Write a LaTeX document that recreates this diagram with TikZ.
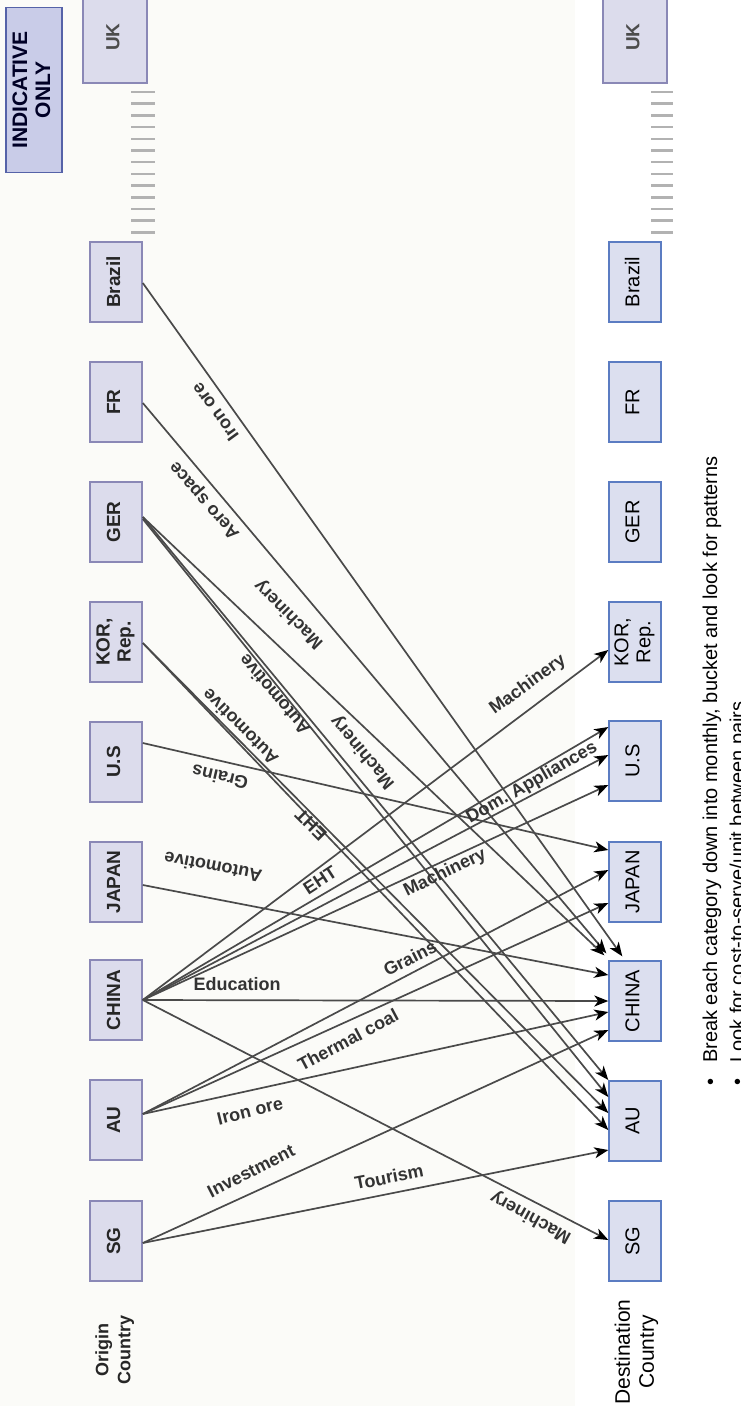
\documentclass[tikz,border=0pt]{standalone}
\usepackage{fontspec}
\setmainfont{Liberation Sans}
\usepackage{graphicx}
\usetikzlibrary{arrows.meta,calc}
\definecolor{boxfill}{HTML}{DCDFEF}
\definecolor{boxline}{HTML}{5B7CC2}
\definecolor{srcfill}{HTML}{DCDCEC}
\definecolor{srcline}{HTML}{8A88B6}
\definecolor{flow}{HTML}{4A4A4A}
\definecolor{lbltext}{HTML}{333333}
\definecolor{paper}{HTML}{FBFBF8}
\definecolor{indfill}{HTML}{C9CCE8}
\definecolor{indline}{HTML}{5562A8}
% vertical (bottom-to-top) multi-line text
\newcommand{\uprt}[1]{\rotatebox{90}{\begin{tabular}{@{}c@{}}#1\end{tabular}}}
\begin{document}
\begin{tikzpicture}[x=1pt,y=-1pt,
  src/.style={draw=srcline, fill=srcfill, line width=1.6pt, minimum width=52pt,
    minimum height=80pt, inner sep=0pt, text=black!85,
    font=\bfseries\fontsize{19}{21}\selectfont},
  dst/.style={draw=boxline, fill=boxfill, line width=1.4pt, minimum width=52pt,
    minimum height=80pt, inner sep=0pt, font=\fontsize{20}{22}\selectfont},
  ukbox/.style={draw=srcline, fill=srcfill, line width=1.2pt, minimum width=64pt,
    minimum height=92pt, inner sep=0pt, text=black!70,
    font=\bfseries\fontsize{19}{22}\selectfont},
  flowline/.style={draw=flow, line width=1.7pt,
    -{Stealth[length=14pt,width=11pt,inset=4pt,color=black]}},
  lbl/.style={text=lbltext, inner sep=0pt, font=\bfseries\fontsize{18}{21}\selectfont},
  dots/.style={draw=black!30, line width=2.5pt},
]
\clip (0,0) rectangle (740,1406);
\fill[white] (0,0) rectangle (740,1406);
\fill[paper] (0,0) rectangle (575,1406);

% ---- origin column ----
\node[src] (oBR) at (116,282) {\uprt{Brazil}};
\node[src] (oFR) at (116,402) {\uprt{FR}};
\node[src] (oGE) at (116,522) {\uprt{GER}};
\node[src] (oKR) at (116,642) {\uprt{KOR,\\Rep.}};
\node[src] (oUS) at (116,762) {\uprt{U.S}};
\node[src] (oJP) at (116,882) {\uprt{JAPAN}};
\node[src] (oCN) at (116,1000) {\uprt{CHINA}};
\node[src] (oAU) at (116,1120) {\uprt{AU}};
\node[src] (oSG) at (116,1241) {\uprt{SG}};
\node[ukbox] (oUK) at (115,37) {\uprt{UK}};

% ---- destination column ----
\node[dst] (dBR) at (635,282) {\uprt{Brazil}};
\node[dst] (dFR) at (635,402) {\uprt{FR}};
\node[dst] (dGE) at (635,522) {\uprt{GER}};
\node[dst] (dKR) at (635,642) {\uprt{KOR,\\Rep.}};
\node[dst] (dUS) at (635,761) {\uprt{U.S}};
\node[dst] (dJP) at (635,882) {\uprt{JAPAN}};
\node[dst] (dCN) at (635,1001) {\uprt{CHINA}};
\node[dst] (dAU) at (635,1121) {\uprt{AU}};
\node[dst] (dSG) at (635,1241) {\uprt{SG}};
\node[ukbox] (dUK) at (635,37) {\uprt{UK}};

% ellipsis between Brazil and UK
\foreach \k in {0,...,12} {
  \draw[dots] (131,92+11.7*\k) -- (155,92+11.7*\k);
  \draw[dots] (651,92+11.7*\k) -- (673,92+11.7*\k);
}

% ---- flows ----
\draw[flowline] ($(oBR.east)+(0,1)$) -- ($(dCN.north west)+(14,-4)$);
\draw[flowline] ($(oFR.east)+(0,1)$) -- ($(dCN.north west)+(-2,-7)$);
\draw[flowline] ($(oGE.east)+(0,-5)$) -- ($(dCN.north west)+(-4,-5)$);
\draw[flowline] ($(oGE.east)+(0,-5)$) -- ($(dAU.west)+(0,-41)$);
\draw[flowline] ($(oGE.east)+(0,-3)$) -- ($(dAU.west)+(0,-24)$);
\draw[flowline] ($(oKR.east)+(0,1)$) -- ($(dAU.west)+(0,-8)$);
\draw[flowline] ($(oKR.east)+(0,1)$) -- ($(dAU.west)+(0,9)$);
\draw[flowline] ($(oUS.east)+(0,-19)$) -- ($(dJP.west)+(0,-32)$);
\draw[flowline] ($(oJP.east)+(0,3)$) -- ($(dCN.west)+(0,-26)$);
\draw[flowline] (oCN.east) -- ($(dKR.west)+(0,8)$);
\draw[flowline] (oCN.east) -- ($(dUS.west)+(0,-34)$);
\draw[flowline] (oCN.east) -- ($(dUS.west)+(0,-6)$);
\draw[flowline] (oCN.east) -- ($(dUS.west)+(0,24)$);
\draw[flowline] (oCN.east) -- (dCN.west);
\draw[flowline] (oCN.east) -- ($(dSG.west)+(0,-1)$);
\draw[flowline] ($(oAU.east)+(0,-6)$) -- ($(dJP.west)+(0,-12)$);
\draw[flowline] ($(oAU.east)+(0,-6)$) -- ($(dJP.west)+(0,21)$);
\draw[flowline] ($(oAU.east)+(0,-6)$) -- ($(dCN.west)+(0,11)$);
\draw[flowline] ($(oSG.east)+(0,2)$) -- ($(dCN.west)+(0,29)$);
\draw[flowline] ($(oSG.east)+(0,2)$) -- ($(dAU.west)+(0,29)$);

% ---- flow labels ----
\node[lbl, rotate=126] (tIronBR)  at (215,412)  {Iron ore};
\node[lbl, rotate=131] (tAero)    at (205,500)  {Aero space};
\node[lbl, rotate=135] (tMachGA)  at (289,614)  {Machinery};
\node[lbl, rotate=130] (tAutoG)   at (274,695)  {Automotive};
\node[lbl, rotate=130] (tMachGB)  at (363,752)  {Machinery};
\node[lbl, rotate=135] (tAutoK)   at (240,727)  {Automotive};
\node[lbl, rotate=135] (tEHTK)    at (311,825)  {EHT};
\node[lbl, rotate=167] (tGrainUS) at (220,777)  {Grains};
\node[lbl, rotate=169] (tAutoJ)   at (213,867)  {Automotive};
\node[lbl, rotate=36]  (tMachKR)  at (528,685)  {Machinery};
\node[lbl, rotate=33]  (tEHTC)    at (320,880)  {EHT};
\node[lbl, rotate=30]  (tDom)     at (532,783)  {Dom. Appliances};
\node[lbl, rotate=26]  (tMachUS)  at (445,873)  {Machinery};
\node[lbl]             (tEdu)     at (237,984)  {Education};
\node[lbl, rotate=151] (tMachSG)  at (531,1217) {Machinery};
\node[lbl, rotate=27]  (tGrainAU) at (410,958)  {Grains};
\node[lbl, rotate=28]  (tCoal)    at (348,1040) {Thermal coal};
\node[lbl, rotate=14]  (tIronAU)  at (250,1111) {Iron ore};
\node[lbl, rotate=27]  (tInv)     at (251,1171) {Investment};
\node[lbl, rotate=11]  (tTour)    at (389,1177) {Tourism};

% ---- headings and notes ----
\node[text=black!85, font=\bfseries\fontsize{18}{22}\selectfont] (hOrig) at (115,1350) {\uprt{Origin\\Country}};
\node[font=\fontsize{21}{24}\selectfont] (hDest) at (637,1352) {\uprt{Destination\\Country}};
\node[draw=indline, fill=indfill, line width=1.2pt, minimum width=56pt, minimum height=165pt,
  inner sep=0pt, text=black!85!blue, font=\bfseries\fontsize{21}{23}\selectfont]
  (ind) at (34,90) {\uprt{INDICATIVE\\ONLY}};
\node[rotate=90, anchor=base west, inner sep=0pt, font=\fontsize{20}{24}\selectfont]
  (note1) at (717,1086) {•\hspace{16pt}Break each category down into monthly, bucket and look for patterns};
\node[rotate=90, anchor=base west, inner sep=0pt, font=\fontsize{20}{24}\selectfont]
  (note2) at (744,1086) {•\hspace{16pt}Look for cost-to-serve/unit between pairs};
\end{tikzpicture}
\end{document}
